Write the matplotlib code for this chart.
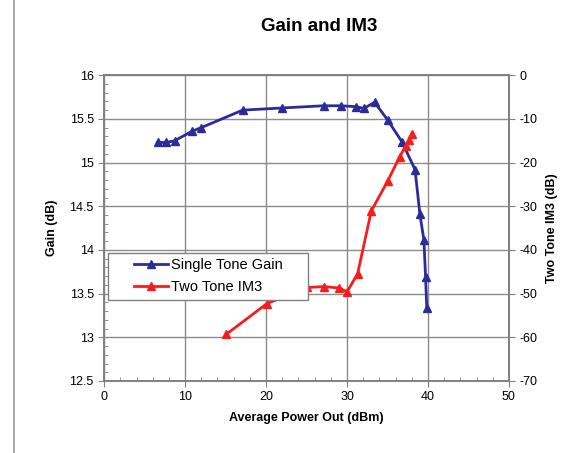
import matplotlib.pyplot as plt
from matplotlib.lines import Line2D
from matplotlib.legend_handler import HandlerLine2D

plt.rcParams['font.family'] = ['Liberation Sans', 'DejaVu Sans']
plt.rcParams['axes.unicode_minus'] = False

# single tone gain (left axis)
gain_pout = [6.6, 7.7, 8.7, 10.9, 12.0, 17.1, 22.0, 27.1, 29.2, 31.1, 32.1, 33.4,
             35.0, 36.8, 38.4, 39.0, 39.5, 39.7, 39.85]
gain_db = [15.23, 15.23, 15.25, 15.36, 15.40, 15.60, 15.625, 15.65, 15.65, 15.64,
           15.62, 15.69, 15.49, 15.235, 14.92, 14.41, 14.11, 13.69, 13.34]

# two tone IM3 (right axis)
im3_pout = [15.1, 20.1, 25.1, 27.1, 29.0, 30.0, 31.3, 33.0, 35.0, 36.5, 37.3, 37.7, 38.0]
im3_dbc = [-59.3, -52.3, -48.6, -48.4, -48.7, -49.6, -45.5, -31.1, -24.3, -18.7,
           -16.1, -14.9, -13.4]

blue = '#2b2b9a'
red = '#f81c1c'

fig = plt.figure(figsize=(5.85, 4.53), dpi=100)
ax = fig.add_axes([0.178, 0.159, 0.692, 0.675])
ax2 = ax.twinx()

ax.plot(gain_pout, gain_db, color=blue, lw=2, marker='^', ms=5.5, label='Single Tone Gain')
ax2.plot(im3_pout, im3_dbc, color=red, lw=2, marker='^', ms=5.5, label='Two Tone IM3')

ax.set_xlim(0, 50)
ax.set_ylim(12.5, 16)
ax2.set_ylim(-70, 0)
ax.set_xticks(range(0, 51, 10))
ax.set_xticks(range(0, 51, 2), minor=True)
ax.set_yticks([12.5, 13, 13.5, 14, 14.5, 15, 15.5, 16])
ax.set_yticklabels(['12.5', '13', '13.5', '14', '14.5', '15', '15.5', '16'])
ax.set_yticks([12.5 + 0.1 * i for i in range(36)], minor=True)
ax2.set_yticks(range(-70, 1, 10))

ax.grid(True, which='major', color='#8c8c8c', lw=1)
ax.set_axisbelow(True)
for a in (ax, ax2):
    for s in a.spines.values():
        s.set_color('#808080')
        s.set_linewidth(1.2)
ax.tick_params(which='both', labelsize=9, color='#808080', length=4, direction='out')
ax.tick_params(which='minor', length=3, direction='in')
ax2.tick_params(labelsize=9, color='#808080', length=4)

ax.set_xlabel('Average Power Out (dBm)', fontsize=9, fontweight='bold', labelpad=6)
ax.set_ylabel('Gain (dB)', fontsize=9, fontweight='bold', labelpad=8)
ax2.set_ylabel('Two Tone IM3 (dB)', fontsize=9, fontweight='bold', labelpad=6)
fig.suptitle('Gain and IM3', fontsize=13.5, fontweight='bold', x=0.545, y=0.96)

h1, l1 = ax.get_legend_handles_labels()
h2, l2 = ax2.get_legend_handles_labels()
leg = ax2.legend(h1 + h2, l1 + l2, loc='upper left', bbox_to_anchor=(0.01, 0.27, 0.494, 0.15),
                 mode='expand', fontsize=10.5, fancybox=False, framealpha=1, edgecolor='#808080',
                 handlelength=3.7, borderpad=0.4, labelspacing=0.5, handletextpad=0.2,
                 borderaxespad=0, handler_map={Line2D: HandlerLine2D(xpad=1.4)})
leg.get_frame().set_linewidth(1)

fig.add_artist(Line2D([0.024, 0.024], [0, 1], transform=fig.transFigure, color='#9a9a9a', lw=1.2))

fig.savefig('out.png', dpi=100)
